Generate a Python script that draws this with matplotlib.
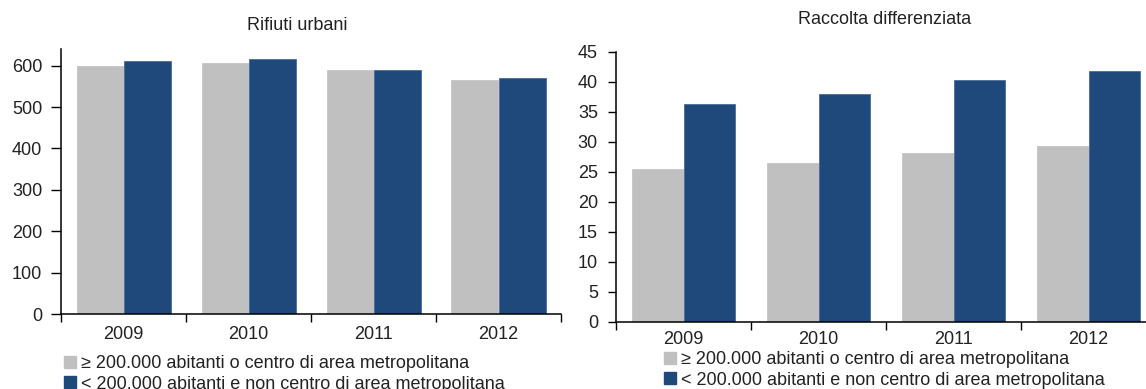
import matplotlib.pyplot as plt
import numpy as np

plt.rcParams['font.family'] = ['Liberation Sans', 'DejaVu Sans']

# Data
years = ['2009', '2010', '2011', '2012']
rifiuti_grandi = [598, 606, 590, 565]
rifiuti_piccoli = [610, 616, 590, 570]
raccolta_grandi = [25.5, 26.4, 28.1, 29.3]
raccolta_piccoli = [36.3, 37.9, 40.2, 41.8]
label_grandi = '≥ 200.000 abitanti o centro di area metropolitana'
label_piccoli = '< 200.000 abitanti e non centro di area metropolitana'

GRAY = '#c0c0c0'
BLUE = '#1f487b'
TEXT = '#222222'
FS = 13

W, H = 1146, 389
fig = plt.figure(figsize=(W / 100, H / 100), dpi=100)


def px_axes(left, top, right, bottom):
    # axes rectangle given in pixel coordinates (origin top-left)
    return fig.add_axes([left / W, 1 - bottom / H, (right - left) / W, (bottom - top) / H])


def draw_panel(ax, grandi, piccoli, width, ymax, step, ytick_len, ypad, xpad):
    x = np.arange(len(years))
    ax.bar(x - width / 2, grandi, width, color=GRAY, edgecolor=GRAY, linewidth=0.5)
    ax.bar(x + width / 2, piccoli, width, color=BLUE, edgecolor='#4a6d9c', linewidth=0.6)
    ax.set_xlim(-0.5, len(years) - 0.5)
    ax.set_ylim(0, ymax)
    ax.set_yticks(np.arange(0, ymax + 0.1, step))
    for s in ['top', 'right']:
        ax.spines[s].set_visible(False)
    for s in ['left', 'bottom']:
        ax.spines[s].set_color('black')
        ax.spines[s].set_linewidth(1.1)
    # boundary ticks on the x axis, year labels in between
    ax.set_xticks(np.arange(-0.5, len(years)))
    ax.set_xticklabels([])
    ax.set_xticks(x, minor=True)
    ax.set_xticklabels(years, minor=True)
    ax.tick_params(axis='x', which='major', length=6, width=1, color='black')
    ax.tick_params(axis='x', which='minor', length=0, pad=xpad, labelsize=FS, labelcolor=TEXT)
    ax.tick_params(axis='y', length=ytick_len, width=1, color='black', pad=ypad,
                   labelsize=FS, labelcolor=TEXT)


ax1 = px_axes(61, 49, 561, 314.3)
draw_panel(ax1, rifiuti_grandi, rifiuti_piccoli, 0.376, 640, 100, 7.5, 6, 8.6)
fig.text(297 / W, 1 - 25 / H, 'Rifiuti urbani', ha='center', va='center', fontsize=FS, color=TEXT)

ax2 = px_axes(616, 51.7, 1156, 321.7)
draw_panel(ax2, raccolta_grandi, raccolta_piccoli, 0.385, 45, 5, 6, 7, 6.7)
fig.text(885 / W, 1 - 20 / H, 'Raccolta differenziata', ha='center', va='center', fontsize=FS, color=TEXT)

# Legends below each panel
for lx, ly in [(64, 355), (664, 351)]:
    handles = [plt.Rectangle((0, 0), 1, 1, color=GRAY), plt.Rectangle((0, 0), 1, 1, color=BLUE)]
    fig.legend(handles, [label_grandi, label_piccoli], loc='upper left',
               bbox_to_anchor=(lx / W, 1 - ly / H), frameon=False, fontsize=FS,
               handlelength=0.65, handleheight=0.65, handletextpad=0.3,
               labelspacing=0.2, borderpad=0, borderaxespad=0, labelcolor=TEXT)

fig.savefig('out.png', dpi=100)
